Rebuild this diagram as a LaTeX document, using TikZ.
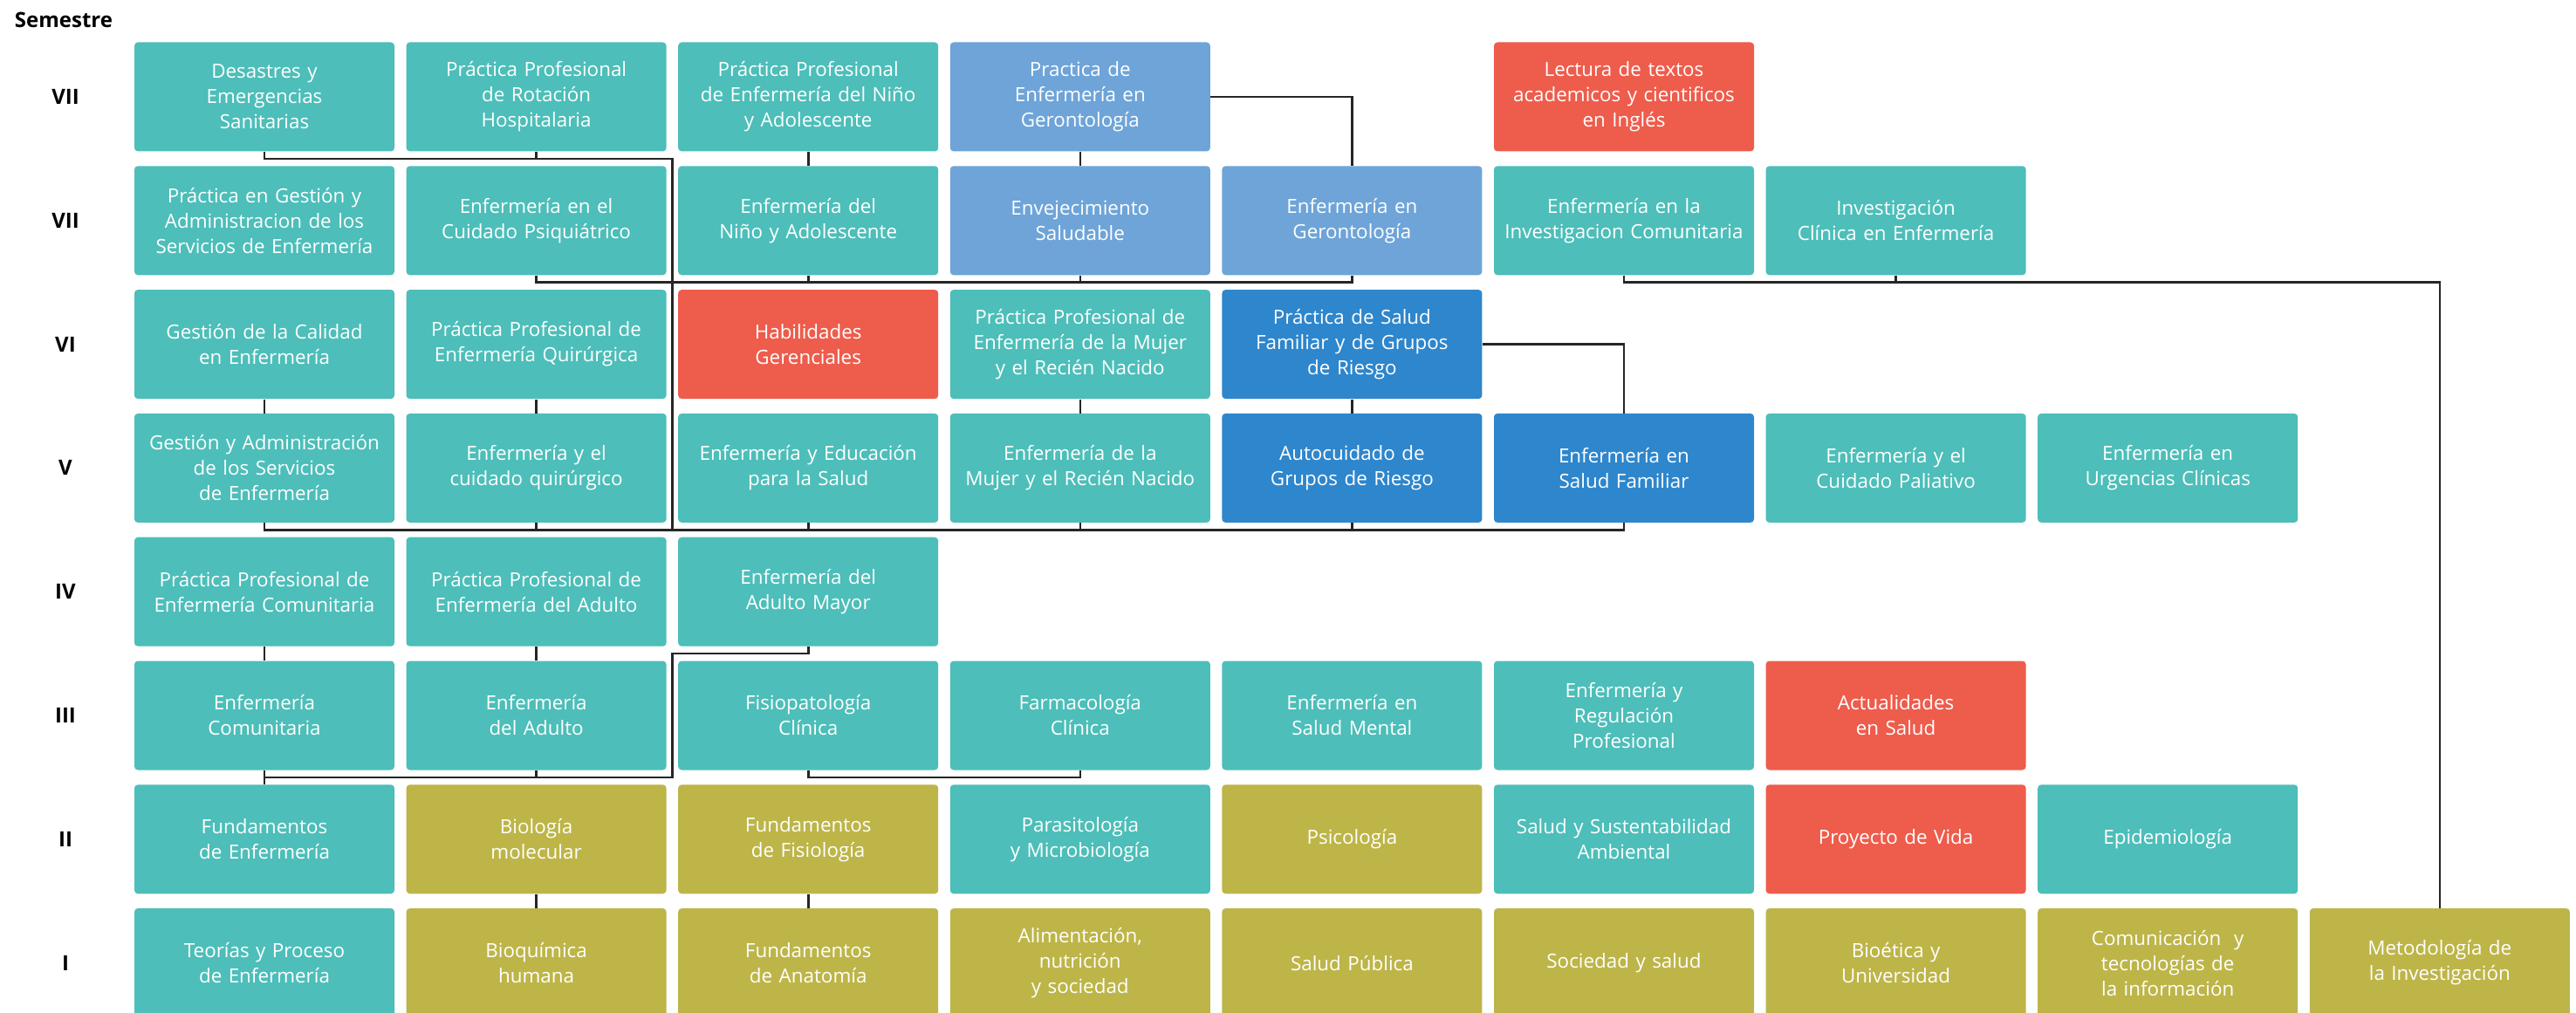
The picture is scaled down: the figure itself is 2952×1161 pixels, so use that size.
\documentclass[tikz,border=0pt]{standalone}
\usepackage{fontspec}
\setmainfont{Open Sans}
\definecolor{tealc}{HTML}{4DBEB9}
\definecolor{olivec}{HTML}{BDB548}
\definecolor{redc}{HTML}{EE5C4C}
\definecolor{lbluec}{HTML}{6EA4D8}
\definecolor{dbluec}{HTML}{2E86CC}
\begin{document}
\begin{tikzpicture}[x=0.5pt,y=-0.5pt,
  box/.style={rectangle, rounded corners=2pt, minimum width=149pt, minimum height=62.5pt,
    text width=147pt, align=center, text=white, inner sep=0pt,
    font=\fontsize{11.2}{14.5}\selectfont},
  tb/.style={box, fill=tealc},
  ob/.style={box, fill=olivec},
  rb/.style={box, fill=redc},
  lb/.style={box, fill=lbluec},
  db/.style={box, fill=dbluec},
  sem/.style={font=\fontsize{12}{14}\selectfont\bfseries, text=black},
  conn/.style={line width=1.3pt, draw=black!85}]
\useasboundingbox (0,0) rectangle (2952,1161);
\clip (0,0) rectangle (2952,1161);
\fill[white] (0,0) rectangle (2952,1161);

% labels
\node[sem] (semestre) at (73,23) {Semestre};
\node[sem] (l1) at (75,111) {VII};
\node[sem] (l2) at (75,252.8) {VII};
\node[sem] (l3) at (75,394.6) {VI};
\node[sem] (l4) at (75,536.4) {V};
\node[sem] (l5) at (75,678.2) {IV};
\node[sem] (l6) at (75,820) {III};
\node[sem] (l7) at (75,961.8) {II};
\node[sem] (l8) at (75,1103.6) {I};

% row 1
\node[tb] (a1) at (303,111) {Desastres y\\Emergencias\\Sanitarias};
\node[tb] (a2) at (614.6,111) {Práctica Profesional\\de Rotación\\Hospitalaria};
\node[tb] (a3) at (926.2,111) {Práctica Profesional\\de Enfermería del Niño\\y Adolescente};
\node[lb] (a4) at (1237.8,111) {Practica de\\Enfermería en\\Gerontología};
\node[rb] (a6) at (1861,111) {Lectura de textos\\academicos y cientificos\\en Inglés};

% row 2
\node[tb] (b1) at (303,252.8) {Práctica en Gestión y\\Administracion de los\\Servicios de Enfermería};
\node[tb] (b2) at (614.6,252.8) {Enfermería en el\\Cuidado Psiquiátrico};
\node[tb] (b3) at (926.2,252.8) {Enfermería del\\Niño y Adolescente};
\node[lb] (b4) at (1237.8,252.8) {Envejecimiento\\Saludable};
\node[lb] (b5) at (1549.4,252.8) {Enfermería en\\Gerontología};
\node[tb] (b6) at (1861,252.8) {Enfermería en la\\Investigacion Comunitaria};
\node[tb] (b7) at (2172.6,252.8) {Investigación\\Clínica en Enfermería};

% row 3
\node[tb] (c1) at (303,394.6) {Gestión de la Calidad\\en Enfermería};
\node[tb] (c2) at (614.6,394.6) {Práctica Profesional de\\Enfermería Quirúrgica};
\node[rb] (c3) at (926.2,394.6) {Habilidades\\Gerenciales};
\node[tb] (c4) at (1237.8,394.6) {Práctica Profesional de\\Enfermería de la Mujer\\y el Recién Nacido};
\node[db] (c5) at (1549.4,394.6) {Práctica de Salud\\Familiar y de Grupos\\de Riesgo};

% row 4
\node[tb] (d1) at (303,536.4) {Gestión y Administración\\de los Servicios\\de Enfermería};
\node[tb] (d2) at (614.6,536.4) {Enfermería y el\\cuidado quirúrgico};
\node[tb] (d3) at (926.2,536.4) {Enfermería y Educación\\para la Salud};
\node[tb] (d4) at (1237.8,536.4) {Enfermería de la\\Mujer y el Recién Nacido};
\node[db] (d5) at (1549.4,536.4) {Autocuidado de\\Grupos de Riesgo};
\node[db] (d6) at (1861,536.4) {Enfermería en\\Salud Familiar};
\node[tb] (d7) at (2172.6,536.4) {Enfermería y el\\Cuidado Paliativo};
\node[tb] (d8) at (2484.2,536.4) {Enfermería en\\Urgencias Clínicas};

% row 5
\node[tb] (e1) at (303,678.2) {Práctica Profesional de\\Enfermería Comunitaria};
\node[tb] (e2) at (614.6,678.2) {Práctica Profesional de\\Enfermería del Adulto};
\node[tb] (e3) at (926.2,678.2) {Enfermería del\\Adulto Mayor};

% row 6
\node[tb] (f1) at (303,820) {Enfermería\\Comunitaria};
\node[tb] (f2) at (614.6,820) {Enfermería\\del Adulto};
\node[tb] (f3) at (926.2,820) {Fisiopatología\\Clínica};
\node[tb] (f4) at (1237.8,820) {Farmacología\\Clínica};
\node[tb] (f5) at (1549.4,820) {Enfermería en\\Salud Mental};
\node[tb] (f6) at (1861,820) {Enfermería y\\Regulación\\Profesional};
\node[rb] (f7) at (2172.6,820) {Actualidades\\en Salud};

% row 7
\node[tb] (g1) at (303,961.8) {Fundamentos\\de Enfermería};
\node[ob] (g2) at (614.6,961.8) {Biología\\molecular};
\node[ob] (g3) at (926.2,961.8) {Fundamentos\\de Fisiología};
\node[tb] (g4) at (1237.8,961.8) {Parasitología\\y Microbiología};
\node[ob] (g5) at (1549.4,961.8) {Psicología};
\node[tb] (g6) at (1861,961.8) {Salud y Sustentabilidad\\Ambiental};
\node[rb] (g7) at (2172.6,961.8) {Proyecto de Vida};
\node[tb] (g8) at (2484.2,961.8) {Epidemiología};

% row 8
\node[tb] (h1) at (303,1103.6) {Teorías y Proceso\\de Enfermería};
\node[ob] (h2) at (614.6,1103.6) {Bioquímica\\humana};
\node[ob] (h3) at (926.2,1103.6) {Fundamentos\\de Anatomía};
\node[ob] (h4) at (1237.8,1103.6) {Alimentación,\\nutrición\\y sociedad};
\node[ob] (h5) at (1549.4,1103.6) {Salud Pública};
\node[ob] (h6) at (1861,1103.6) {Sociedad y salud};
\node[ob] (h7) at (2172.6,1103.6) {Bioética y\\Universidad};
\node[ob] (h8) at (2484.2,1103.6) {Comunicación~~y\\tecnologías de\\la información};
\node[ob] (h9) at (2795.8,1103.6) {Metodología de\\la Investigación};

% gap levels
\coordinate (V) at (770.4,0);
\coordinate (L12) at (0,181.9);
\coordinate (L23) at (0,323.7);
\coordinate (L45) at (0,607.3);
\coordinate (L56) at (0,749.1);
\coordinate (L67) at (0,890.9);

% connectors
\draw[conn] (a1.south) -- (a1.south|-L12) -- (V|-L12) -- (V|-L45);
\draw[conn] (a2.south) -- (a2.south|-L12);
\draw[conn] (a3.south) -- (b3.north);
\draw[conn] (a4.south) -- (b4.north);
\draw[conn] (a4.east) -| (b5.north);

\draw[conn] (b2.south) -- (b2.south|-L23) -- (b5.south|-L23) -- (b5.south);
\draw[conn] (b3.south) -- (b3.south|-L23);
\draw[conn] (b4.south) -- (b4.south|-L23);
\draw[conn] (b6.south) -- (b6.south|-L23) -- (h9.north|-L23) -- (h9.north);
\draw[conn] (b7.south) -- (b7.south|-L23);

\draw[conn] (c1.south) -- (d1.north);
\draw[conn] (c2.south) -- (d2.north);
\draw[conn] (c4.south) -- (d4.north);
\draw[conn] (c5.south) -- (d5.north);
\draw[conn] (c5.east) -| (d6.north);

\draw[conn] (d1.south) -- (d1.south|-L45) -- (d6.south|-L45) -- (d6.south);
\draw[conn] (d2.south) -- (d2.south|-L45);
\draw[conn] (d3.south) -- (d3.south|-L45);
\draw[conn] (d4.south) -- (d4.south|-L45);
\draw[conn] (d5.south) -- (d5.south|-L45);

\draw[conn] (e1.south) -- (f1.north);
\draw[conn] (e2.south) -- (f2.north);
\draw[conn] (e3.south) -- (e3.south|-L56) -- (V|-L56) -- (V|-L67) -- (f1.south|-L67);
\draw[conn] (f1.south) -- (g1.north);
\draw[conn] (f2.south) -- (f2.south|-L67);
\draw[conn] (f3.south) -- (f3.south|-L67) -- (f4.south|-L67) -- (f4.south);

\draw[conn] (g2.south) -- (h2.north);
\draw[conn] (g3.south) -- (h3.north);
\end{tikzpicture}
\end{document}
